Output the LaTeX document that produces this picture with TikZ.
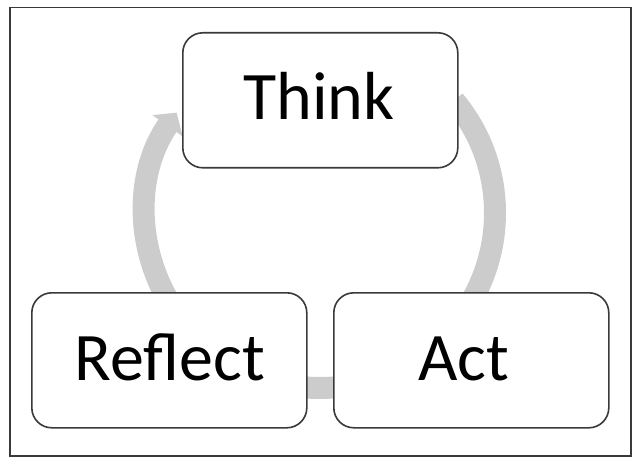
\documentclass[tikz,border=0pt]{standalone}
\usepackage{fontspec}
\setmainfont{Carlito}
\usetikzlibrary{arrows.meta,calc}
\definecolor{cyclegray}{HTML}{CCCCCC}
\definecolor{boxline}{HTML}{3A3A3A}
\tikzset{
  stagebox/.style={draw=boxline, line width=1.6pt, fill=white, rounded corners=20pt,
    minimum width=275pt, minimum height=135pt, inner sep=0pt, anchor=north west},
  stagetext/.style={font=\fontsize{68}{68}\selectfont, text=black, anchor=base, inner sep=0pt},
  cyclearrow/.style={draw=cyclegray, line width=22pt, -{Triangle[width=36pt,length=16pt]}}
}
\begin{document}
\begin{tikzpicture}[x=1pt,y=-1pt]
\useasboundingbox (0,0) rectangle (632,457);
\node[draw=boxline, line width=1.5pt, minimum width=621pt, minimum height=448pt, inner sep=0pt, anchor=north west] (frame) at (9,7) {};
\coordinate (c) at (320,213);
\draw[cyclearrow] ($(c)+(-40:175)$) arc[start angle=-40, end angle=215, radius=175];
\node[stagebox] (think) at (182,32) {};
\node[stagebox] (reflect) at (31,292) {};
\node[stagebox] (act) at (333,292) {};
\node[stagetext] (thinkt) at (319,120) {Think};
\node[stagetext] (reflectt) at (170,380) {Reflect};
\node[stagetext] (actt) at (464,380) {Act};
\end{tikzpicture}
\end{document}
